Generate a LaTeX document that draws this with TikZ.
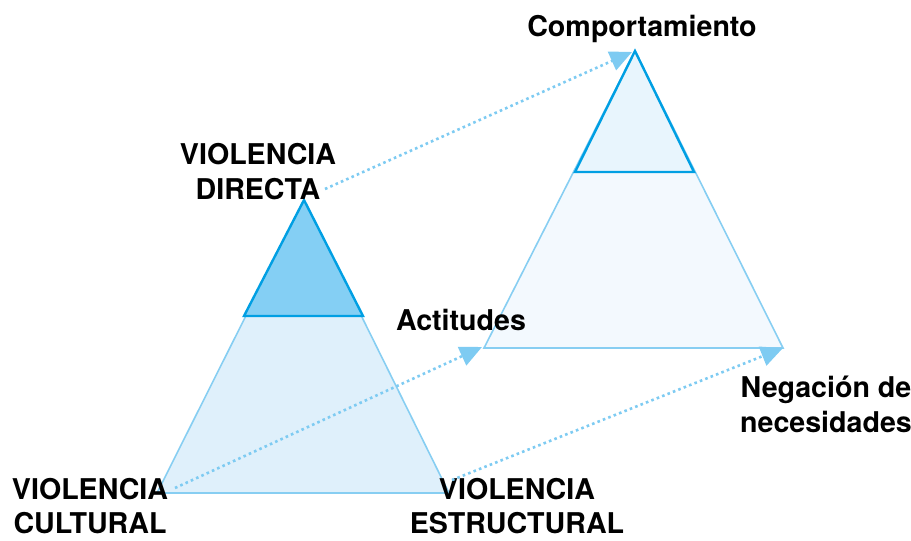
\documentclass[tikz,border=0pt]{standalone}
\usepackage{fontspec}
\setmainfont{TeX Gyre Heros}
\usetikzlibrary{arrows.meta}
\definecolor{lineblue}{HTML}{87CEF2}
\definecolor{darkblue}{HTML}{009FE3}
\definecolor{fillA}{HTML}{DFF0FB}
\definecolor{fillB}{HTML}{84CFF4}
\definecolor{fillC}{HTML}{F3F9FE}
\definecolor{fillD}{HTML}{E8F5FD}
\definecolor{dotblue}{HTML}{7ECBF2}
\tikzset{
  lbl/.style={font=\bfseries\fontsize{28.6}{35}\selectfont, align=center, inner sep=0pt, anchor=base},
  lblb/.style={lbl, font=\bfseries\fontsize{28.6}{33.5}\selectfont, text depth=0pt},
  outer/.style={draw=lineblue, line width=1.6pt, line join=miter},
  inner/.style={draw=darkblue, line width=2.4pt, line join=miter},
  dotarrow/.style={draw=dotblue, line width=2.6pt, dash pattern=on 2.6pt off 3.2pt,
    -{Triangle[length=22pt,width=20pt,fill=dotblue]}}
}
\begin{document}
\begin{tikzpicture}[x=1pt,y=-1pt]
\useasboundingbox (0,0) rectangle (911,541);
% left pyramid
\coordinate (LA) at (304,200);
\coordinate (LL) at (157,493);
\coordinate (LR) at (449,493);
\coordinate (LIL) at (244,316);
\coordinate (LIR) at (363,316);
\fill[fillA] (LA) -- (LL) -- (LR) -- cycle;
\draw[outer] (LA) -- (LL) -- (LR) -- cycle;
\filldraw[inner, fill=fillB] (LA) -- (LIL) -- (LIR) -- cycle;
% right pyramid
\coordinate (RA) at (635,51);
\coordinate (RL) at (484,348);
\coordinate (RR) at (783,348);
\coordinate (RIL) at (575,172);
\coordinate (RIR) at (694,172);
\fill[fillC] (RA) -- (RL) -- (RR) -- cycle;
\draw[outer] (RA) -- (RL) -- (RR) -- cycle;
\filldraw[inner, fill=fillD] (RA) -- (RIL) -- (RIR) -- cycle;
% labels
\node[lbl] (dir) at (258,199) {VIOLENCIA\\DIRECTA};
\node[lblb] (cul) at (90,533) {VIOLENCIA\\CULTURAL};
\node[lblb] (est) at (517,533) {VIOLENCIA\\ESTRUCTURAL};
\node[lbl] (comp) at (642,36) {Comportamiento};
\node[lbl] (act) at (461,330) {Actitudes};
\node[lbl] (neg) at (826,432) {Negación de\\necesidades};
% arrows
\coordinate (s1) at (325,189);
\coordinate (e1) at (632,52);
\coordinate (s2) at (175,488);
\coordinate (e2) at (482,347);
\coordinate (s3) at (452,480);
\coordinate (e3) at (783,348);
\draw[dotarrow] (s1) -- (e1);
\draw[dotarrow] (s2) -- (e2);
\draw[dotarrow] (s3) -- (e3);
\end{tikzpicture}
\end{document}
